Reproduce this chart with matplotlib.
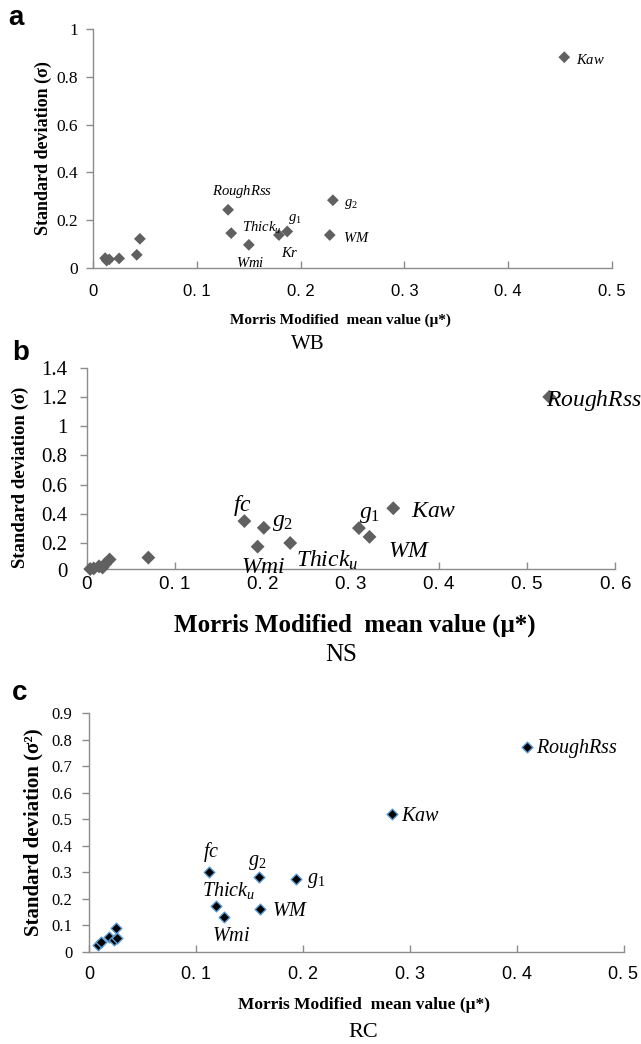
import matplotlib
matplotlib.use('Agg')
import matplotlib.pyplot as plt
from matplotlib.transforms import blended_transform_factory

plt.rcParams['mathtext.fontset'] = 'custom'
plt.rcParams['mathtext.rm'] = 'Liberation Serif'
plt.rcParams['mathtext.it'] = 'Liberation Serif:italic'
plt.rcParams['mathtext.bf'] = 'Liberation Serif:bold'

# a - WB
wb_names = ['Kaw', 'RoughRss', 'g2', 'Thicku', 'Wmi', 'Kr', 'g1', 'WM', '', '', '', '', '', '']
wb_mu = [0.454, 0.130, 0.231, 0.133, 0.150, 0.179, 0.187, 0.228, 0.0115, 0.013, 0.0155, 0.025, 0.042, 0.045]
wb_sigma = [0.883, 0.243, 0.283, 0.145, 0.096, 0.137, 0.152, 0.137, 0.040, 0.030, 0.035, 0.039, 0.054, 0.121]

# b - NS
ns_names = ['RoughRss', 'Kaw', 'g1', 'WM', 'fc', 'g2', 'Wmi', 'Thicku', '', '', '', '', '', '', '']
ns_mu = [0.525, 0.348, 0.309, 0.321, 0.179, 0.201, 0.194, 0.231, 0.004, 0.008, 0.014, 0.018, 0.021, 0.026, 0.070]
ns_sigma = [1.20, 0.438, 0.302, 0.242, 0.350, 0.304, 0.175, 0.200, 0.022, 0.026, 0.040, 0.032, 0.056, 0.087, 0.100]

# c - RC
rc_names = ['RoughRss', 'Kaw', 'fc', 'g2', 'g1', 'Thicku', 'WM', 'Wmi', '', '', '', '', '', '']
rc_mu = [0.410, 0.2835, 0.1125, 0.159, 0.1935, 0.119, 0.160, 0.126, 0.0085, 0.0115, 0.019, 0.023, 0.026, 0.025]
rc_sigma = [0.773, 0.520, 0.301, 0.283, 0.276, 0.174, 0.160, 0.131, 0.027, 0.038, 0.057, 0.046, 0.050, 0.090]

pretty = {'Kaw': '$Kaw$', 'RoughRss': '$RoughRss$', 'g1': '$g_1$', 'g2': '$g_2$',
          'Thicku': '$Thick_u$', 'Wmi': '$Wmi$', 'Kr': '$Kr$', 'WM': '$WM$', 'fc': '$fc$'}

# label placement (ha, dx px, dy px)
wb_pos = {'Kaw': ('left', 12, -2), 'RoughRss': ('center', 14, 18), 'g2': ('left', 11, -3),
          'Thicku': ('left', 11, 5), 'g1': ('left', 1, 13), 'Kr': ('left', 2, -17),
          'WM': ('left', 13, -2), 'Wmi': ('center', 1, -18)}
ns_pos = {'RoughRss': ('left', -3, -4), 'Kaw': ('left', 18, -2), 'g1': ('left', 0, 15),
          'WM': ('left', 18, -13), 'fc': ('center', -2, 16), 'g2': ('left', 8, 7),
          'Wmi': ('center', 6, -19), 'Thicku': ('left', 6, -17)}
rc_pos = {'RoughRss': ('left', 9, -2), 'Kaw': ('left', 9, -2), 'fc': ('center', 2, 20),
          'g2': ('center', -2, 14), 'g1': ('left', 11, -2), 'Thicku': ('center', 12, 15),
          'WM': ('left', 12, -1), 'Wmi': ('center', 7, -19)}

W, H = 641, 1044
fig = plt.figure(figsize=(W / 100, H / 100), dpi=100)


def box(l, r, t, b):
    return [l / W, 1 - b / H, (r - l) / W, (b - t) / H]


def panel(rect, mu, sig, names, pos, xmax, ymin, ymax, ystep, xfont, xsize, ysize,
          xpad, ypad, lab_size, xl_size, xl_xy, yl_size, yl_xy, sub, sub_size, sub_xy,
          ylab, msize, face, edge):
    ax = fig.add_axes(rect)
    ax.scatter(mu, sig, marker='D', s=msize, c=face, edgecolors=edge, linewidths=1 if edge != 'none' else 0,
               zorder=3, clip_on=False)
    for n, x, y in zip(names, mu, sig):
        if not n:
            continue
        ha, dx, dy = pos[n]
        ax.annotate(pretty[n], (x, y), xytext=(dx, dy), textcoords='offset pixels',
                    ha=ha, va='center', fontsize=lab_size, annotation_clip=False)
    ax.set_xlim(0, xmax)
    ax.set_ylim(ymin, ymax)
    for s in ['top', 'right']:
        ax.spines[s].set_visible(False)
    for s in ['left', 'bottom']:
        ax.spines[s].set_color('#8c8c8c')
        ax.spines[s].set_linewidth(1)
    nx = int(round(xmax / 0.1))
    xt = [i * 0.1 for i in range(nx + 1)]
    ax.set_xticks(xt)
    ax.set_xticklabels(['0'] + ['0. %d' % i for i in range(1, nx + 1)])
    ny = int(round(ymax / ystep))
    first = 1 if ymin > 0 else 0
    yt = [i * ystep for i in range(first, ny + 1)]
    ax.set_yticks(yt)
    ax.set_yticklabels([('%g' % v) for v in yt])
    ax.tick_params(axis='x', direction='in', length=5, width=1, color='#8c8c8c', pad=xpad)
    ax.tick_params(axis='y', direction='out', length=5, width=1, color='#8c8c8c', pad=ypad)
    for t in ax.get_xticklabels():
        t.set_family(xfont)
        t.set_fontsize(xsize)
    for t in ax.get_yticklabels():
        t.set_family('Liberation Serif')
        t.set_fontsize(ysize)
    if ymin > 0:
        tr = blended_transform_factory(ax.transAxes, ax.transData)
        ax.text(-(ypad + 5) / 72 * 100 / (rect[2] * W), 0, '0', transform=tr, ha='right', va='center',
                family='Liberation Serif', fontsize=ysize)
    ax.set_xlabel('Morris Modified  mean value (\u03bc*)', family='Liberation Serif',
                  fontweight='bold', fontsize=xl_size, va='center')
    ax.xaxis.set_label_coords(*xl_xy)
    ax.set_ylabel(ylab, family='Liberation Serif', fontweight='bold', fontsize=yl_size, va='center')
    ax.yaxis.set_label_coords(*yl_xy)
    ax.text(sub_xy[0], sub_xy[1], sub, transform=ax.transAxes, ha='center', va='center',
            family='Liberation Serif', fontsize=sub_size)
    return ax


panel(box(93.2, 612, 29.3, 267.7), wb_mu, wb_sigma, wb_names, wb_pos, 0.5, 0, 1.0, 0.2,
      ['Liberation Sans Narrow', 'Liberation Sans'], 12, 12.5, 12, 6, 10.5,
      11, (0.476, -0.219), 13, (-0.097, 0.502), 'WB', 15, (0.414, -0.324),
      'Standard deviation (\u03c3)', 36, '#606060', 'none')

panel(box(86.7, 615.3, 367.7, 569.3), ns_mu, ns_sigma, ns_names, ns_pos, 0.6, 0.02, 1.4, 0.2,
      ['Liberation Sans'], 13.5, 15, 5, 9, 17,
      18, (0.507, -0.276), 13.5, (-0.126, 0.458), 'NS', 18, (0.481, -0.425),
      'Standard deviation (\u03c3)', 50, '#606060', 'none')

panel(box(89.1, 623.5, 713.3, 951.7), rc_mu, rc_sigma, rc_names, rc_pos, 0.5, 0, 0.9, 0.1,
      ['Liberation Sans'], 13, 12, 10, 7, 14.5,
      12.5, (0.514, -0.224), 15, (-0.105, 0.502), 'RC', 16, (0.513, -0.337),
      'Standard deviation (\u03c3\u00b2)', 30, 'black', '#5b9bd5')

for letter, x, y in [('a', 8, 25), ('b', 12, 360), ('c', 12, 700)]:
    fig.text(x / W, 1 - y / H, letter, family='Liberation Sans', fontweight='bold',
             fontsize=20, va='baseline', ha='left')

fig.savefig('out.png', dpi=100)
